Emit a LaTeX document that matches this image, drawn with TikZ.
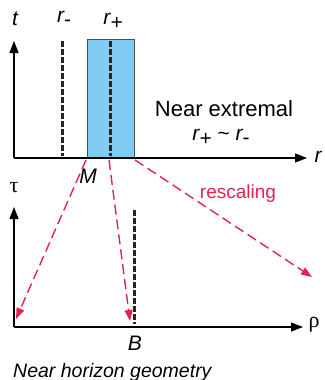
\documentclass[tikz,border=0pt]{standalone}
\usepackage{fontspec}
\setmainfont{Liberation Sans}
\newfontfamily\grk{Liberation Serif}
\usetikzlibrary{arrows.meta}
\definecolor{boxblue}{HTML}{7FCBF1}
\definecolor{redd}{HTML}{E2234F}
\newcommand{\subm}{\raisebox{-0.35ex}{\upshape -}}
\newcommand{\subp}{\raisebox{-0.45ex}{+}}
\begin{document}
\begin{tikzpicture}[x=1pt,y=-1pt,
 axis/.style={line width=1.3pt,-{Triangle[length=12pt,width=9pt]}},
 hdash/.style={line width=3pt, dash pattern=on 6pt off 2pt, black!85},
 resc/.style={redd, line width=1.4pt, dash pattern=on 10pt off 5pt, -{Triangle[length=11pt,width=8pt]}},
 lab/.style={font=\fontsize{21}{22}\selectfont\itshape, inner sep=0pt},
 txt/.style={font=\fontsize{22}{24}\selectfont, inner sep=0pt}
]
\useasboundingbox (0,0) rectangle (324,380);
% upper diagram
\coordinate (O1) at (14,158);
\coordinate (T1) at (14,41);
\coordinate (R1) at (307,158);
\node[draw=black!70, fill=boxblue, line width=0.8pt, minimum width=47pt, minimum height=118pt, inner sep=0pt, anchor=south west] (box) at (87,158) {};
\coordinate (rmT) at (62,41);
\coordinate (rmB) at (62,156);
\coordinate (rpT) at (110,41);
\coordinate (rpB) at (110,156);
\draw[hdash] (rmT) -- (rmB);
\draw[hdash] (rpT) -- (rpB);
\draw[axis] (O1) -- (T1);
\draw[axis] (O1) -- (R1);
\node[lab] (t) at (15,19) {t};
\node[lab] (rm) at (64,19) {r\subm};
\node[lab] (rp) at (113,21) {r\subp};
\node[lab] (r) at (318,157) {r};
\node[txt] (ne) at (224,109) {Near extremal};
\node[txt, font=\fontsize{21}{22}\selectfont] (rel) at (221,137) {\itshape r\subp\ \upshape\textasciitilde\ \itshape r\subm};
\node[lab] (M) at (88,176) {M};
% lower diagram
\coordinate (O2) at (14,327);
\coordinate (T2) at (14,207);
\coordinate (R2) at (303,327);
\coordinate (bT) at (134,210);
\coordinate (bB) at (134,324);
\draw[hdash] (bT) -- (bB);
\draw[axis] (O2) -- (T2);
\draw[axis] (O2) -- (R2);
\node[txt, font=\fontsize{22}{22}\selectfont\grk] (tau) at (14,188) {τ};
\node[txt, font=\fontsize{22}{22}\selectfont\grk] (rho) at (314,325) {ρ};
\node[lab] (B) at (135,343) {B};
\node[lab, font=\fontsize{19.5}{22}\selectfont\itshape, anchor=west] (nhg) at (13,372) {Near horizon geometry};
\node[txt, font=\fontsize{19}{22}\selectfont, text=redd] (resc) at (238,194) {rescaling};
% rescaling arrows
\coordinate (s1) at (86,160);
\coordinate (e1) at (16,319);
\coordinate (s2) at (109,160);
\coordinate (e2) at (130,321);
\coordinate (s3) at (135,160);
\coordinate (e3) at (312,277);
\draw[resc] (s1) -- (e1);
\draw[resc] (s2) -- (e2);
\draw[resc] (s3) -- (e3);
\end{tikzpicture}
\end{document}
